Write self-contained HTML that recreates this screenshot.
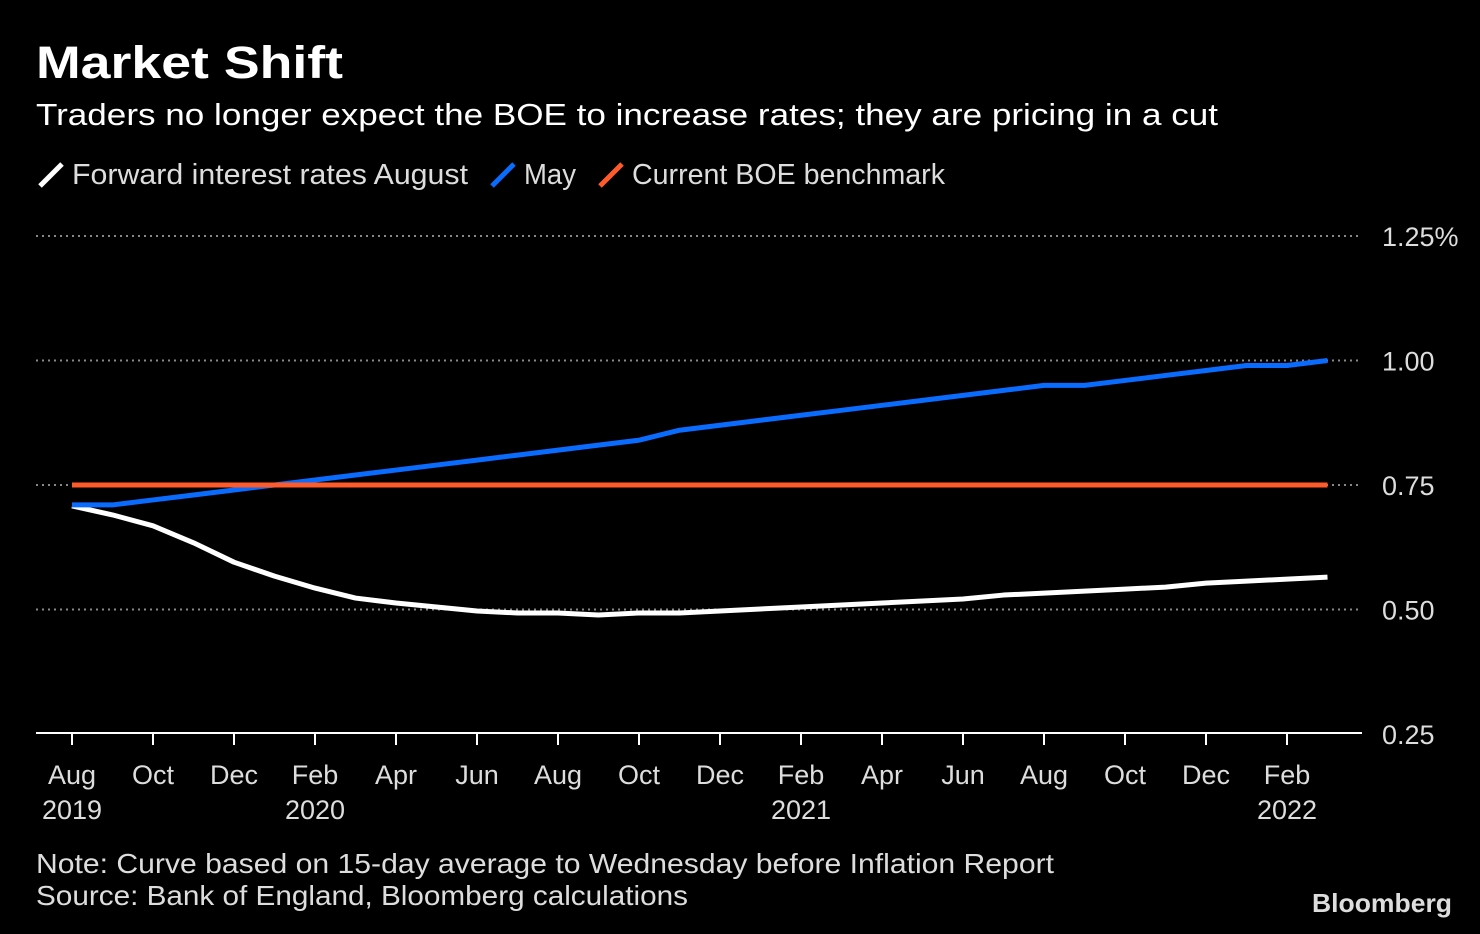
<!DOCTYPE html>
<html><head><meta charset="utf-8"><style>
body{margin:0;background:#000;width:1480px;height:934px;overflow:hidden;font-family:"Liberation Sans",sans-serif;color:#fff}
</style></head><body>
<svg width="1480" height="934" style="position:absolute;left:0;top:0" font-family="Liberation Sans, sans-serif">
<text x="36" y="78" font-size="45" font-weight="bold" fill="#fff" textLength="307" lengthAdjust="spacingAndGlyphs">Market Shift</text>
<text x="36" y="125" font-size="31" fill="#fff" textLength="1182" lengthAdjust="spacingAndGlyphs">Traders no longer expect the BOE to increase rates; they are pricing in a cut</text>
<g font-size="29" fill="#ddd">
<g><line x1="40" y1="186" x2="62" y2="164" stroke="#fff" stroke-width="5"/><text x="72" y="184" textLength="396" lengthAdjust="spacingAndGlyphs">Forward interest rates August</text></g>
<g><line x1="492" y1="186" x2="514" y2="164" stroke="#0a6cff" stroke-width="5"/><text x="524" y="184" textLength="52" lengthAdjust="spacingAndGlyphs">May</text></g>
<g><line x1="600" y1="186" x2="622" y2="164" stroke="#ff5a2a" stroke-width="5"/><text x="632" y="184" textLength="313" lengthAdjust="spacingAndGlyphs">Current BOE benchmark</text></g>
</g>
<g id="grid"></g><g id="xax"></g><g id="series"></g>
<text x="36" y="873" font-size="28" fill="#ddd" textLength="1018" lengthAdjust="spacingAndGlyphs">Note: Curve based on 15-day average to Wednesday before Inflation Report</text>
<text x="36" y="905" font-size="28" fill="#ddd" textLength="652" lengthAdjust="spacingAndGlyphs">Source: Bank of England, Bloomberg calculations</text>
<text x="1312" y="912" font-size="26" font-weight="bold" fill="#ddd" textLength="140" lengthAdjust="spacingAndGlyphs">Bloomberg</text>
</svg>
<script>
const yTicks=[0.25,0.5,0.75,1.0,1.25];
const yTickLabels=["0.25","0.50","0.75","1.00","1.25%"];
const xTickLabels=["Aug","Oct","Dec","Feb","Apr","Jun","Aug","Oct","Dec","Feb","Apr","Jun","Aug","Oct","Dec","Feb"];
const xYearLabels=["2019","","","2020","","","","","","2021","","","","","","2022"];
const mayValues=[0.71,0.71,0.72,0.73,0.74,0.75,0.76,0.77,0.78,0.79,0.80,0.81,0.82,0.83,0.84,0.86,0.87,0.88,0.89,0.90,0.91,0.92,0.93,0.94,0.95,0.95,0.96,0.97,0.98,0.99,0.99,1.00];
const augValues=[0.708,0.69,0.668,0.634,0.595,0.567,0.543,0.523,0.513,0.505,0.497,0.493,0.493,0.489,0.493,0.493,0.497,0.501,0.505,0.509,0.513,0.517,0.521,0.529,0.533,0.537,0.541,0.545,0.553,0.557,0.561,0.565];
const boeValues=mayValues.map(()=>0.75);
const NS="http://www.w3.org/2000/svg";
const y=v=>236+(1.25-v)*498;
const x=i=>72+i*40.5;
function mk(tag,attrs,parent){const e=document.createElementNS(NS,tag);for(const k in attrs)e.setAttribute(k,attrs[k]);parent.appendChild(e);return e;}
const grid=document.getElementById('grid');
yTicks.forEach((v,i)=>{
 if(v>0.25){const l=mk('line',{x1:36,x2:1362,y1:y(v),y2:y(v),stroke:'#888','stroke-width':2,'stroke-dasharray':'2 4'},grid);
 
 }
 const t=mk('text',{x:1382,y:y(v)+10,'font-size':27,fill:'#ddd'},grid);t.textContent=yTickLabels[i];
 
 
});
const xa=document.getElementById('xax');
const ax=mk('line',{x1:36,x2:1362,y1:733,y2:733,stroke:'#fff','stroke-width':2},xa);


xTickLabels.forEach((s,i)=>{
 const xx=x(i*2);
 mk('line',{x1:xx,x2:xx,y1:733,y2:745,stroke:'#fff','stroke-width':2},xa);
 const t=mk('text',{x:xx,y:784,'font-size':27,fill:'#ddd','text-anchor':'middle'},xa);t.textContent=s;
 
 
 if(xYearLabels[i]){const u=mk('text',{x:xx,y:819,'font-size':27,fill:'#ddd','text-anchor':'middle'},xa);u.textContent=xYearLabels[i];
 
 }
});
const sg=document.getElementById('series');
[[augValues,'#fff','august-line'],[mayValues,'#0a6cff','may-line'],[boeValues,'#ff5a2a','boe-line']].forEach(([vals,c,n])=>{
 const p=mk('polyline',{points:vals.map((v,i)=>x(i)+','+y(v)).join(' '),fill:'none',stroke:c,'stroke-width':5,'stroke-linejoin':'round'},sg);
 
 
});
</script>
</body></html>
